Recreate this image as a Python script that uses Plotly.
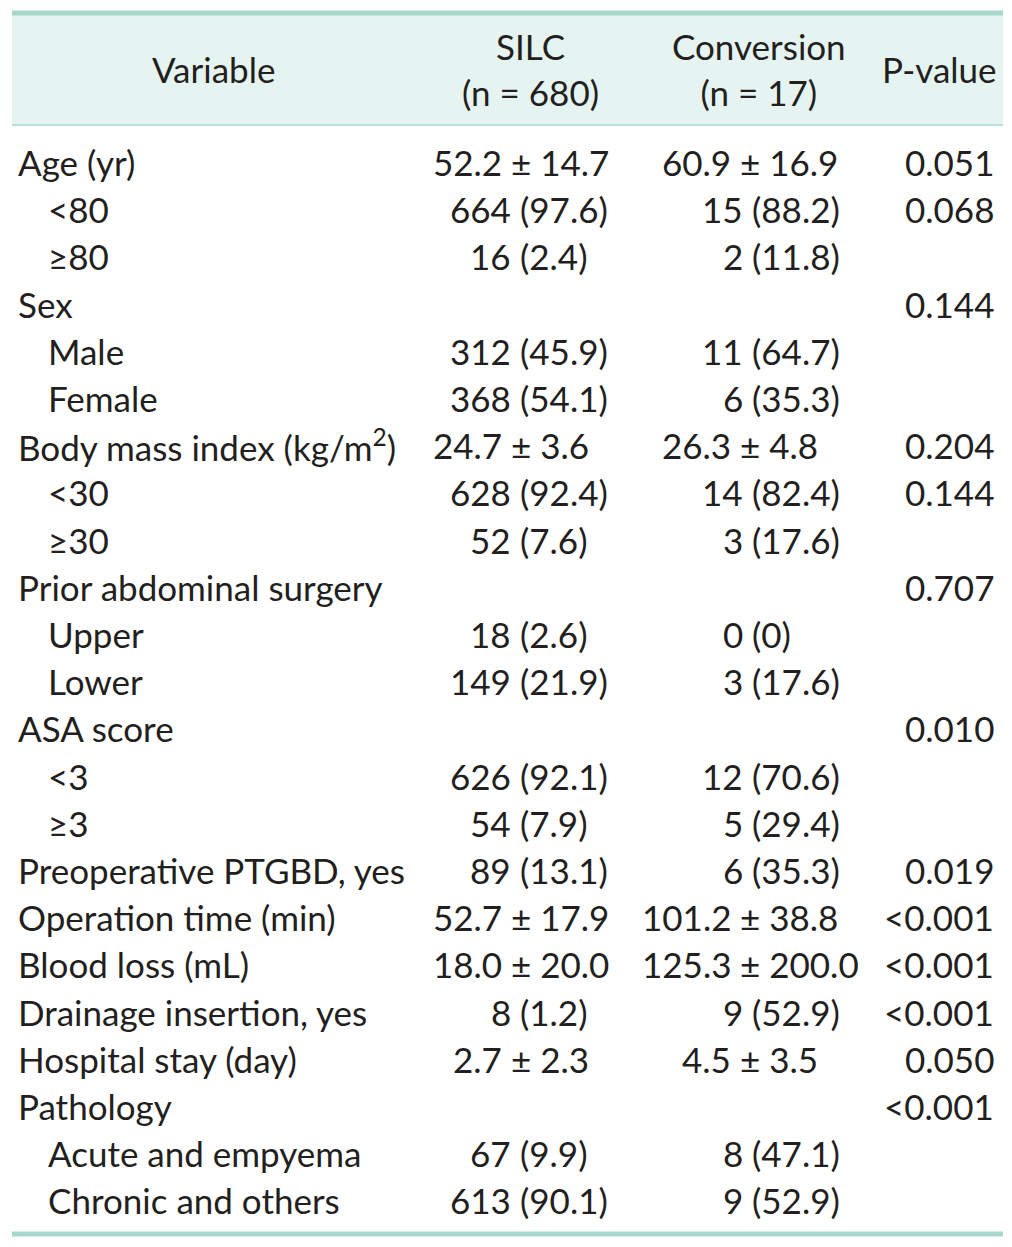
import plotly.graph_objects as go

# ---------------- data ----------------
variables = ["Age (yr)", "<80", "≥80", "Sex", "Male", "Female",
             "Body mass index (kg/m<sup>2</sup>)", "<30", "≥30",
             "Prior abdominal surgery", "Upper", "Lower", "ASA score", "<3", "≥3",
             "Preoperative PTGBD, yes", "Operation time (min)", "Blood loss (mL)",
             "Drainage insertion, yes", "Hospital stay (day)", "Pathology",
             "Acute and empyema", "Chronic and others"]
levels = [0, 1, 1, 0, 1, 1, 0, 1, 1, 0, 1, 1, 0, 1, 1, 0, 0, 0, 0, 0, 0, 1, 1]
silc = ["52.2 ± 14.7", "664 (97.6)", "16 (2.4)", "", "312 (45.9)", "368 (54.1)",
        "24.7 ± 3.6", "628 (92.4)", "52 (7.6)", "", "18 (2.6)", "149 (21.9)", "",
        "626 (92.1)", "54 (7.9)", "89 (13.1)", "52.7 ± 17.9", "18.0 ± 20.0",
        "8 (1.2)", "2.7 ± 2.3", "", "67 (9.9)", "613 (90.1)"]
conversion = ["60.9 ± 16.9", "15 (88.2)", "2 (11.8)", "", "11 (64.7)", "6 (35.3)",
              "26.3 ± 4.8", "14 (82.4)", "3 (17.6)", "", "0 (0)", "3 (17.6)", "",
              "12 (70.6)", "5 (29.4)", "6 (35.3)", "101.2 ± 38.8", "125.3 ± 200.0",
              "9 (52.9)", "4.5 ± 3.5", "", "8 (47.1)", "9 (52.9)"]
pvalues = ["0.051", "0.068", "", "0.144", "", "", "0.204", "0.144", "", "0.707", "",
           "", "0.010", "", "", "0.019", "<0.001", "<0.001", "<0.001", "0.050",
           "<0.001", "", ""]
headers = ["Variable", "SILC<br>(n = 680)", "Conversion<br>(n = 17)", "P-value"]

# ---------------- style / layout ----------------
W, H = 1012, 1247
OFF = 8  # page body margin
FONT = "Lato"
FS = 35
TXT = "#231f20"
TEAL = "#a6d8cc"
HEAD_BG = "#e6f4f1"
X0, X1 = 12, 1003
TOP_Y, HEAD_BOT, BOT_Y = 13, 125, 1234
ROW0, PITCH = 162, 47.2
IND = [18, 48]
HEAD_X = [213, 530, 759, 939]
# per column anchors: (count anchor, mean anchor)
ANCH = {1: (511, 502), 2: (743, 731)}
P_RIGHT = 994


def esc(s):
    return s.replace("<sup>", "\x01").replace("</sup>", "\x02").replace("<", "&lt;") \
        .replace("\x01", "<sup>").replace("\x02", "</sup>")


fig = go.Figure()
fig.add_trace(go.Scatter(x=[OFF, W], y=[OFF, H], mode="markers",
                         marker=dict(opacity=0), hoverinfo="skip", showlegend=False))

shapes = [
    dict(type="rect", xref="x", yref="y", x0=X0, x1=X1, y0=TOP_Y, y1=HEAD_BOT,
         fillcolor=HEAD_BG, line=dict(width=0), layer="below"),
    dict(type="line", xref="x", yref="y", x0=X0, x1=X1, y0=TOP_Y, y1=TOP_Y,
         line=dict(color=TEAL, width=5)),
    dict(type="line", xref="x", yref="y", x0=X0, x1=X1, y0=HEAD_BOT, y1=HEAD_BOT,
         line=dict(color=TEAL, width=1.5)),
    dict(type="line", xref="x", yref="y", x0=X0, x1=X1, y0=BOT_Y, y1=BOT_Y,
         line=dict(color=TEAL, width=5)),
]

ann = []
font = dict(family=FONT, size=FS, color=TXT)
base = dict(showarrow=False, yanchor="middle", font=font, borderpad=0, borderwidth=0)
for j, h in enumerate(headers):
    ann.append(dict(x=HEAD_X[j], y=(TOP_Y + HEAD_BOT) / 2, text=h,
                    xanchor="center", align="center", **base))

for i, v in enumerate(variables):
    y = ROW0 + i * PITCH
    ann.append(dict(x=IND[levels[i]], y=y, text=esc(v), xanchor="left", **base))
    for col, vals in ((1, silc), (2, conversion)):
        s = vals[i]
        if not s:
            continue
        head, tail = s.split(" ", 1)
        a = ANCH[col][1] if "±" in s else ANCH[col][0]
        ann.append(dict(x=a, y=y, text=head, xanchor="right", **base))
        ann.append(dict(x=a, y=y, text="\u00a0" + tail, xanchor="left", **base))
    if pvalues[i]:
        ann.append(dict(x=P_RIGHT, y=y, text=esc(pvalues[i]), xanchor="right", **base))

fig.update_layout(
    width=W - OFF, height=H - OFF, margin=dict(l=0, r=0, t=0, b=0),
    paper_bgcolor="white", plot_bgcolor="white",
    xaxis=dict(range=[OFF, W], visible=False, fixedrange=True),
    yaxis=dict(range=[H, OFF], visible=False, fixedrange=True),
    shapes=shapes, annotations=ann, showlegend=False,
)
fig.write_html("out.html")
